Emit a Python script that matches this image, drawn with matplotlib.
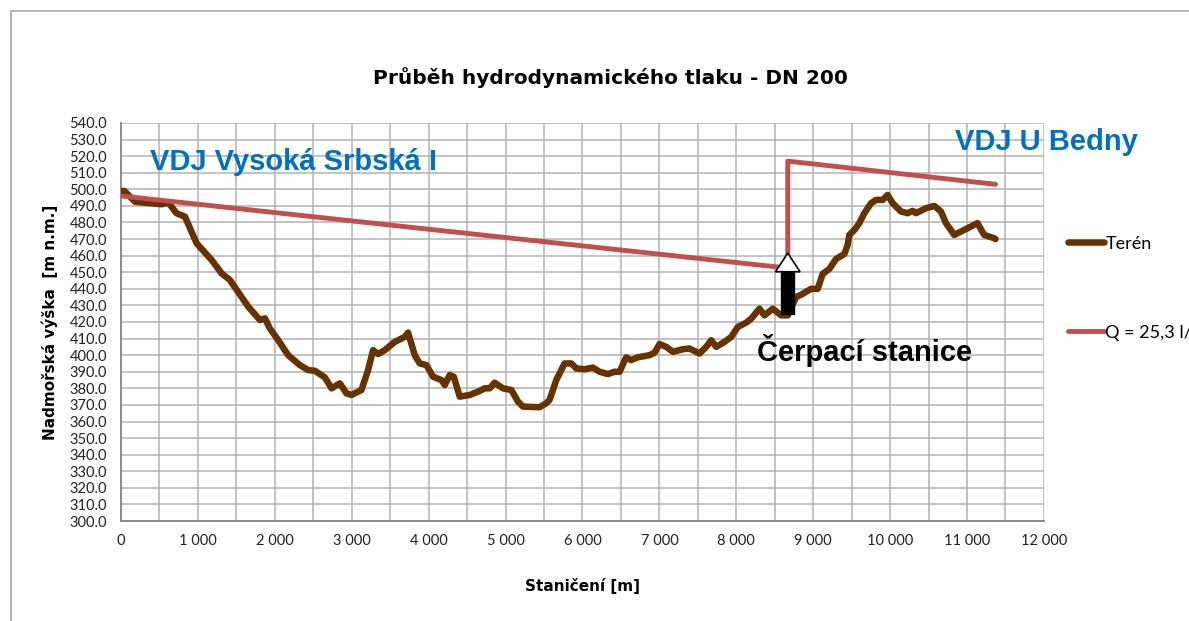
import numpy as np
import matplotlib
matplotlib.use("Agg")
import matplotlib.pyplot as plt
from matplotlib.patches import Rectangle, Polygon
from matplotlib.ticker import MultipleLocator, FuncFormatter

plt.rcParams['font.family'] = ['Lato', 'DejaVu Sans']

# Terrain profile (stationing [m], elevation [m n.m.])
teren_x = [0, 43, 182, 528, 615, 723, 831, 983, 1178, 1308, 1416, 1654, 1806, 1871, 1935,
           2044, 2173, 2325, 2433, 2520, 2650, 2737, 2845, 2932, 2997, 3126, 3212, 3277,
           3342, 3429, 3559, 3689, 3732, 3819, 3884, 3971, 4057, 4166, 4209, 4274, 4326,
           4404, 4533, 4641, 4728, 4793, 4858, 4966, 5075, 5161, 5226, 5442, 5529, 5572,
           5659, 5767, 5854, 5919, 6027, 6135, 6222, 6330, 6417, 6482, 6568, 6633, 6720,
           6872, 6937, 7002, 7089, 7176, 7306, 7392, 7522, 7609, 7674, 7739, 7847, 7934,
           8020, 8129, 8193, 8301, 8366, 8474, 8583, 8669, 8777, 8864, 8972, 9058, 9123,
           9210, 9297, 9405, 9448, 9470, 9535, 9600, 9665, 9752, 9817, 9903, 9968, 10033,
           10141, 10228, 10293, 10336, 10466, 10574, 10661, 10726, 10834, 10963, 11136,
           11223, 11353, 11370]
teren_y = [499, 499, 492.5, 491, 492, 485.5, 483.5, 467.4, 457.4, 449.3, 445.3, 429.2, 421.2,
           422.2, 416.1, 409, 400, 394, 391, 390.6, 386.6, 380, 383, 377, 376, 379, 391,
           403, 400.7, 403, 408, 411, 413.6, 400, 395, 394, 387, 385, 382, 388, 387, 375,
           376, 378, 380, 380, 383.4, 380, 379, 372, 369, 368.6, 371, 373, 385, 395, 395,
           392, 391.5, 392.5, 390, 388.6, 390, 390, 398.7, 397, 398.7, 400, 401.5, 406.7,
           405, 402, 403.6, 404, 401, 405, 409, 405, 408, 411, 417, 419.6, 422, 428, 424,
           428, 424, 424, 435, 437, 440, 440, 449, 452, 458, 461, 466.5, 472.5, 475.5,
           479.6, 485.6, 491.6, 493.6, 493.6, 496.6, 491.6, 486.6, 485.6, 487, 485.6,
           488.6, 490, 486.6, 479.6, 472.5, 475.5, 479.6, 472.5, 470.5, 470]

# Hydrodynamic pressure line, Q = 25,3 l/s
tlak_x = [0, 8669, 8669, 11370]
tlak_y = [496, 452.5, 517, 503]

# Pump station arrow
cs_x = 8669
cs_y0 = 425
cs_y1 = 450.3
cs_tip = 461.5

fig = plt.figure(figsize=(11.89, 6.21), dpi=100)
fig.patches.append(Rectangle((11 / 1189, -0.1), 1.2, 1.1 - 11 / 621,
                             transform=fig.transFigure, fill=False,
                             edgecolor="#a6a6a6", linewidth=1.2))

ax = fig.add_axes([0.1018, 0.161, 0.7762, 0.641])

ax.plot(teren_x, teren_y, color="#663300", linewidth=4.7, label="Terén",
        solid_capstyle="round", solid_joinstyle="round", zorder=3)
ax.plot(tlak_x, tlak_y, color="#c0504d", linewidth=3.5, label="Q = 25,3 l/s",
        solid_capstyle="round", zorder=3)

# arrow: black shaft + white head
ax.add_patch(Rectangle((cs_x - 85, cs_y0), 170, cs_y1 - cs_y0, facecolor="black",
                       edgecolor="black", zorder=5))
ax.add_patch(Polygon([[cs_x - 160, cs_y1], [cs_x + 160, cs_y1], [cs_x, cs_tip]],
                     closed=True, facecolor="white", edgecolor="black",
                     linewidth=1.2, zorder=6))

ax.set_xlim(0, 12000)
ax.set_ylim(300, 540)
ax.xaxis.set_major_locator(MultipleLocator(1000))
ax.xaxis.set_minor_locator(MultipleLocator(500))
ax.yaxis.set_major_locator(MultipleLocator(10))
ax.xaxis.set_major_formatter(FuncFormatter(lambda v, p: f"{int(v):,}".replace(",", " ")))
ax.yaxis.set_major_formatter(FuncFormatter(lambda v, p: f"{v:.1f}"))
ax.grid(True, which="both", color="#b3b3b3", linewidth=1.1)
ax.set_axisbelow(True)
ax.tick_params(which="both", length=0, labelsize=10.5, colors="#222222")
ax.tick_params(axis="x", pad=9)
ax.tick_params(axis="y", pad=10)
for s in ["top", "right"]:
    ax.spines[s].set_visible(False)
for s in ["left", "bottom"]:
    ax.spines[s].set_color("#868686")
    ax.spines[s].set_linewidth(1.3)

ax.set_title("Průběh hydrodynamického tlaku - DN 200", fontsize=14.5, fontweight="bold",
             family="DejaVu Sans", pad=28, x=0.53)
ax.set_xlabel("Staničení [m]", fontsize=11, fontweight="bold", family="DejaVu Sans",
              labelpad=22)
ax.set_ylabel("Nadmořská výška  [m n.m.]", fontsize=11, fontweight="bold",
              family="DejaVu Sans", labelpad=8)

ax.text(377, 516.5, "VDJ Vysoká Srbská I", color="#0070c0", fontsize=21,
        fontweight="bold", family="Liberation Sans", va="center", zorder=7)
ax.text(10840, 528.5, "VDJ U Bedny", color="#0070c0", fontsize=21,
        fontweight="bold", family="Liberation Sans", va="center", zorder=7,
        clip_on=False)
ax.text(8270, 403, "Čerpací stanice", color="black", fontsize=21,
        fontweight="bold", family="Liberation Sans", va="center", zorder=7)

ax.legend(loc="center left", bbox_to_anchor=(1.008, 0.585), frameon=False,
          fontsize=13, labelspacing=4.05, handlelength=2.0, handletextpad=0.1)

fig.savefig("out.png", dpi=100)
